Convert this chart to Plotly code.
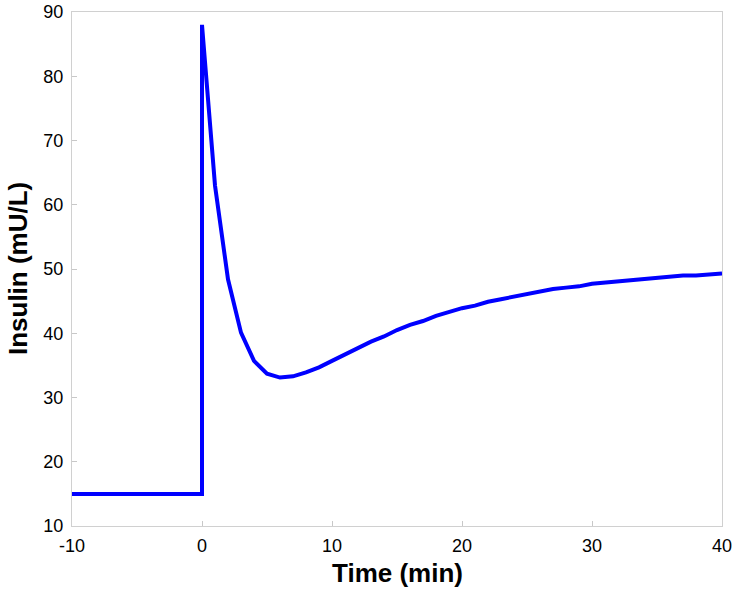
import plotly.graph_objects as go

# insulin response
time_min = [-10, 0, 0, 1, 2, 3, 4, 5, 6, 7, 8, 9, 10, 11, 12, 13, 14, 15, 16, 17, 18, 19, 20,
            21, 22, 23, 24, 25, 26, 27, 28, 29, 30, 31, 32, 33, 34, 35, 36, 37, 38, 39, 40]
insulin = [15, 15, 88, 63, 48.4, 40.1, 35.7, 33.7, 33.1, 33.3, 33.9, 34.7, 35.7, 36.7, 37.7, 38.7,
           39.5, 40.5, 41.3, 41.9, 42.7, 43.3, 43.9, 44.3, 44.9, 45.3, 45.7, 46.1, 46.5, 46.9,
           47.1, 47.3, 47.7, 47.9, 48.1, 48.3, 48.5, 48.7, 48.9, 49.0, 49.0, 49.2, 49.3]

x_ticks = [-10, 0, 10, 20, 30, 40]
x_labels = ['-10', '0', '10', '20', '30', '40']
y_ticks = [10, 20, 30, 40, 50, 60, 70, 80, 90]

font_name = 'Liberation Sans, Arial'

fig = go.Figure(go.Scatter(x=time_min, y=insulin, mode='lines',
                           line=dict(color='rgb(0,0,255)', width=4)))

axis_style = dict(
    showgrid=False, zeroline=False, showline=True, mirror=True,
    linecolor='#d0d0d0', linewidth=1, automargin=False,
    ticks='inside', ticklen=5, tickcolor='#c8c8c8',
    tickfont=dict(family=font_name, size=18, color='black'),
)

fig.update_layout(
    width=739,
    height=592,
    margin=dict(l=72, r=17, t=12, b=66),
    paper_bgcolor='white',
    plot_bgcolor='white',
    showlegend=False,
    xaxis=dict(range=[-10, 40], tickvals=x_ticks, ticktext=x_labels,
               ticklabelstandoff=3, **axis_style),
    yaxis=dict(range=[10, 90], tickvals=y_ticks, ticklabelstandoff=4, **axis_style),
)

# axis titles placed by hand
fig.add_annotation(text='<b>Time (min)</b>', xref='paper', yref='paper',
                   x=0.5, y=-0.091, xanchor='center', yanchor='middle', showarrow=False,
                   font=dict(family=font_name, size=26, color='black'))
fig.add_annotation(text='<b>Insulin (mU/L)</b>', xref='paper', yref='paper',
                   x=-0.083, y=0.5, xanchor='center', yanchor='middle', showarrow=False,
                   textangle=-90, font=dict(family=font_name, size=26, color='black'))

# drop the default 8px page margin so the figure fills the window
fig.write_html("out.html", config={'displayModeBar': False},
               post_script="document.body.style.margin='0';")
